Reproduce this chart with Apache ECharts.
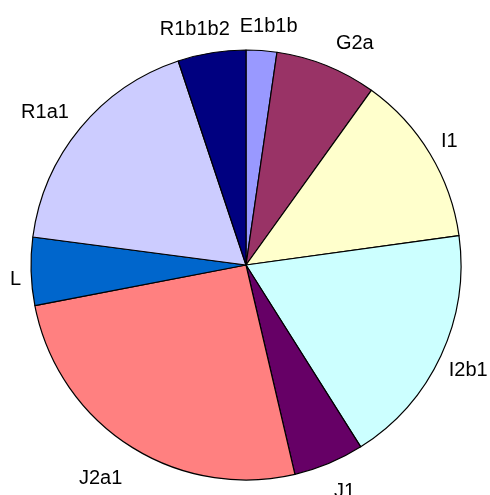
<!DOCTYPE html>
<html><head><meta charset="utf-8">
<script src="https://cdn.jsdelivr.net/npm/echarts/dist/echarts.min.js"></script>
<style>html,body{margin:0;padding:0;background:#fff}#c{width:490px;height:495px}</style>
</head><body><div id="c"></div>
<script>
const categories = ['E1b1b', 'G2a', 'I1', 'I2b1', 'J1', 'J2a1', 'L', 'R1a1', 'R1b1b2'];
const values = [2.3, 7.6, 12.9, 18.2, 5.3, 25.6, 5.1, 17.8, 5.1];
const colors = ['#9999ff', '#993366', '#ffffcc', '#ccffff', '#660066', '#ff8080', '#0066cc', '#ccccff', '#000080'];
// small label nudges (styling only), in px
const labelNudge = [[4, 0], [16, 0], [0, 0], [-3, 5], [6, 6], [-9, 13], [4, 7], [-6, 0], [-9, 0]];

const CX = 246, CY = 265, R = 215, GAP = 14;
const total = values.reduce((a, b) => a + b, 0);
const midAngles = [];
let acc = 0;
values.forEach(v => { midAngles.push((acc + v / 2) / total * 2 * Math.PI); acc += v; });

const chart = echarts.init(document.getElementById('c'), null, { renderer: 'canvas' });
chart.setOption({
  animation: false,
  backgroundColor: '#ffffff',
  series: [{
    type: 'pie',
    center: [CX, CY],
    radius: R,
    startAngle: 90,
    clockwise: true,
    avoidLabelOverlap: false,
    data: categories.map((n, i) => ({ name: n, value: values[i], itemStyle: { color: colors[i] } })),
    itemStyle: { borderColor: '#000', borderWidth: 1.2 },
    label: {
      show: true, position: 'outside', formatter: '{b}',
      fontFamily: 'Liberation Sans, Arial, sans-serif', fontSize: 20, color: '#000'
    },
    labelLine: { show: false, length: 12, length2: 0 },
    emphasis: { disabled: true },
    labelLayout: function (p) {
      const i = p.dataIndex;
      const a = midAngles[i];
      const s = Math.sin(a), c = Math.cos(a);
      const w = p.labelRect.width, h = p.labelRect.height;
      return {
        x: CX + (R + GAP) * s + s * w / 2 + labelNudge[i][0],
        y: CY - (R + GAP) * c - c * h / 2 + labelNudge[i][1],
        align: 'center', verticalAlign: 'middle'
      };
    }
  }]
});
</script>
</body></html>
